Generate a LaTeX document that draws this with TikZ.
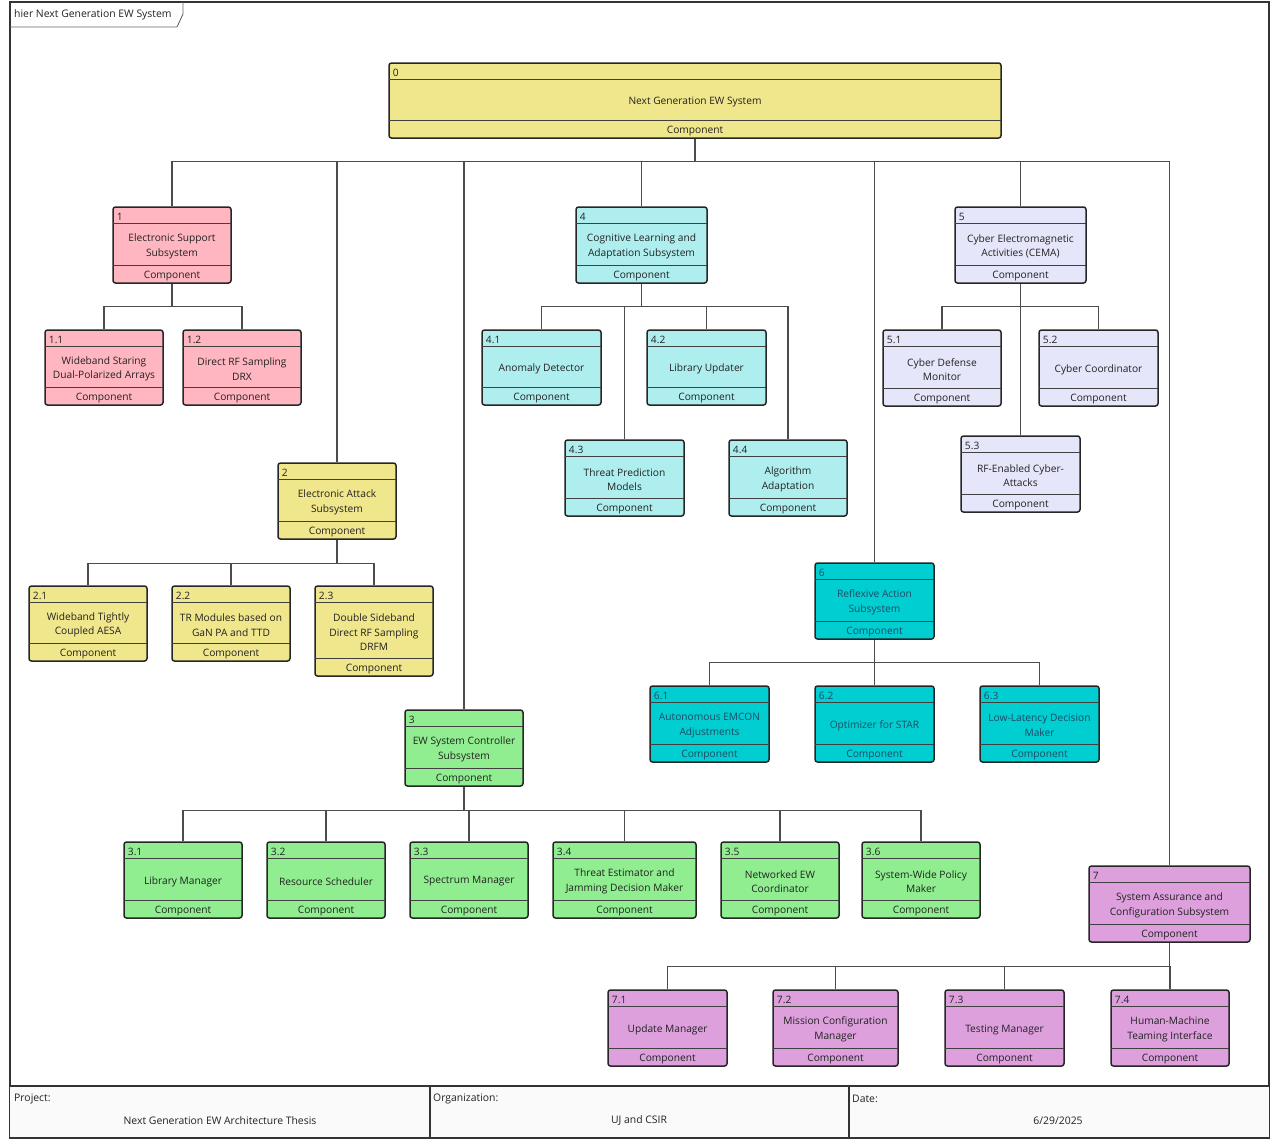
\documentclass[tikz,border=0pt]{standalone}
\usepackage{fontspec}
\setmainfont{Open Sans}
\usetikzlibrary{calc}
\definecolor{cyel}{HTML}{F0E68C}
\definecolor{cpink}{HTML}{FFB6C1}
\definecolor{cpale}{HTML}{AFEEEE}
\definecolor{clav}{HTML}{E6E6FA}
\definecolor{cturq}{HTML}{00CED1}
\definecolor{cgreen}{HTML}{90EE90}
\definecolor{cplum}{HTML}{DDA0DD}
\definecolor{tdark}{HTML}{222222}
\definecolor{tteal}{HTML}{1E4A66}
\def\tc{tdark}
\tikzset{
  cbox/.style={draw=black!85, line width=1.5pt, rounded corners=2.5pt, inner sep=0pt},
  sepline/.style={draw=black!75, line width=0.9pt},
  conn/.style={draw=black!70, line width=1.1pt},
  lbl/.style={font=\fontsize{10.2}{14.5}\selectfont, align=center, inner sep=0pt, text=\tc},
  small/.style={font=\fontsize{10.4}{12}\selectfont, inner sep=0pt, text=tdark},
}
\newcommand\compbox[8]{%
  \node[cbox, fill=#6, minimum width=#4, minimum height=#5] (#1) at (#2,#3) {};
  \draw[sepline] ([yshift=-17pt,xshift=0.8pt]#1.north west) -- ([yshift=-17pt,xshift=-0.8pt]#1.north east);
  \draw[sepline] ([yshift=18pt,xshift=0.8pt]#1.south west) -- ([yshift=18pt,xshift=-0.8pt]#1.south east);
  \node[lbl, anchor=west] (#1num) at ([xshift=4.5pt,yshift=-10.8pt]#1.north west) {#7};
  \node[lbl] (#1txt) at ([yshift=-1.5pt]#1.center) {#8};
  \node[lbl] (#1cmp) at ([yshift=8pt]#1.south) {Component};
}
\begin{document}
\begin{tikzpicture}[x=1pt,y=-1pt]
\useasboundingbox (0,0) rectangle (1272,1146);
\fill[white] (0,0) rectangle (1272,1146);
% frame
\draw[black!80, line width=1.5pt] (10,2) rectangle (1269,1138);
\draw[black!60, line width=0.9pt] (10,27) -- (177,27) -- (183,14) -- (183,2);
\node[small, anchor=west] (title) at (14,15) {hier Next Generation EW System};
% table
\fill[black!2] (10,1086) rectangle (1269,1138);
\draw[black!80, line width=1.5pt] (10,1086) -- (1269,1086);
\draw[black!80, line width=1.5pt] (10,1138) -- (1269,1138);
\draw[black!80, line width=1.5pt] (430,1086) -- (430,1138);
\draw[black!80, line width=1.5pt] (849,1086) -- (849,1138);
\node[small, anchor=west] (projl) at (14,1099) {Project:};
\node[small] (projv) at (220,1121) {Next Generation EW Architecture Thesis};
\node[small, anchor=west] (orgl) at (433,1099) {Organization:};
\node[small] (orgv) at (639,1121) {UJ and CSIR};
\node[small, anchor=west] (datel) at (852,1099) {Date:};
\node[small] (datev) at (1058,1121) {6/29/2025};

% root
\compbox{n0}{695}{100.5}{612}{75}{cyel}{0}{Next Generation EW System}
% 1
\compbox{n1}{172}{245}{118}{76}{cpink}{1}{Electronic Support\\Subsystem}
\compbox{n11}{104}{367.5}{118}{75}{cpink}{1.1}{Wideband Staring\\Dual-Polarized Arrays}
\compbox{n12}{242}{367.5}{118}{75}{cpink}{1.2}{Direct RF Sampling\\DRX}
% 2
\compbox{n2}{337}{501}{118}{76}{cyel}{2}{Electronic Attack\\Subsystem}
\compbox{n21}{88}{623.5}{118}{75}{cyel}{2.1}{Wideband Tightly\\Coupled AESA}
\compbox{n22}{231}{623.5}{118}{75}{cyel}{2.2}{TR Modules based on\\GaN PA and TTD}
\compbox{n23}{374}{631}{118}{90}{cyel}{2.3}{Double Sideband\\Direct RF Sampling\\DRFM}
% 3
\compbox{n3}{464}{748}{118}{76}{cgreen}{3}{EW System Controller\\Subsystem}
\compbox{n31}{183}{880}{118}{76}{cgreen}{3.1}{Library Manager}
\compbox{n32}{326}{880}{118}{76}{cgreen}{3.2}{Resource Scheduler}
\compbox{n33}{469}{880}{118}{76}{cgreen}{3.3}{Spectrum Manager}
\compbox{n34}{624.5}{880}{143}{76}{cgreen}{3.4}{Threat Estimator and\\Jamming Decision Maker}
\compbox{n35}{780}{880}{118}{76}{cgreen}{3.5}{Networked EW\\Coordinator}
\compbox{n36}{921}{880}{118}{76}{cgreen}{3.6}{System-Wide Policy\\Maker}
% 4
\compbox{n4}{641.5}{245}{131}{76}{cpale}{4}{Cognitive Learning and\\Adaptation Subsystem}
\compbox{n41}{541.5}{367.5}{119}{75}{cpale}{4.1}{Anomaly Detector}
\compbox{n42}{706.5}{367.5}{119}{75}{cpale}{4.2}{Library Updater}
\compbox{n43}{624.5}{478}{119}{76}{cpale}{4.3}{Threat Prediction\\Models}
\compbox{n44}{788}{478}{118}{76}{cpale}{4.4}{Algorithm\\Adaptation}
% 5
\compbox{n5}{1020.5}{245}{131}{76}{clav}{5}{Cyber Electromagnetic\\Activities (CEMA)}
\compbox{n51}{942}{368}{118}{76}{clav}{5.1}{Cyber Defense\\Monitor}
\compbox{n52}{1098.5}{368}{119}{76}{clav}{5.2}{Cyber Coordinator}
\compbox{n53}{1020.5}{474}{119}{76}{clav}{5.3}{RF-Enabled Cyber-\\Attacks}
% 6
\def\tc{tteal}
\compbox{n6}{874.5}{601}{119}{76}{cturq}{6}{Reflexive Action\\Subsystem}
\compbox{n61}{709.5}{724}{119}{76}{cturq}{6.1}{Autonomous EMCON\\Adjustments}
\compbox{n62}{874.5}{724}{119}{76}{cturq}{6.2}{Optimizer for STAR}
\compbox{n63}{1039.5}{724}{119}{76}{cturq}{6.3}{Low-Latency Decision\\Maker}
\def\tc{tdark}
% 7
\compbox{n7}{1169.5}{904}{161}{76}{cplum}{7}{System Assurance and\\Configuration Subsystem}
\compbox{n71}{667.5}{1028}{119}{76}{cplum}{7.1}{Update Manager}
\compbox{n72}{835.5}{1028}{125}{76}{cplum}{7.2}{Mission Configuration\\Manager}
\compbox{n73}{1004.5}{1028}{119}{76}{cplum}{7.3}{Testing Manager}
\compbox{n74}{1170}{1028}{118}{76}{cplum}{7.4}{Human-Machine\\Teaming Interface}

% connectors
\coordinate (b0) at ([yshift=-23pt]n0.south);
\foreach \c in {n1,n2,n3,n4,n5,n6,n7} \draw[conn] (n0.south) -- (b0) -| (\c.north);
\coordinate (b1) at ([yshift=-23pt]n1.south);
\foreach \c in {n11,n12} \draw[conn] (n1.south) -- (b1) -| (\c.north);
\coordinate (b2) at ([yshift=-24pt]n2.south);
\foreach \c in {n21,n22,n23} \draw[conn] (n2.south) -- (b2) -| (\c.north);
\coordinate (b3) at ([yshift=-24pt]n3.south);
\foreach \c in {n31,n32,n33,n34,n35,n36} \draw[conn] (n3.south) -- (b3) -| (\c.north);
\coordinate (b4) at ([yshift=-23pt]n4.south);
\foreach \c in {n41,n42,n43,n44} \draw[conn] (n4.south) -- (b4) -| (\c.north);
\coordinate (b5) at ([yshift=-23pt]n5.south);
\foreach \c in {n51,n52,n53} \draw[conn] (n5.south) -- (b5) -| (\c.north);
\coordinate (b6) at ([yshift=-23pt]n6.south);
\foreach \c in {n61,n62,n63} \draw[conn] (n6.south) -- (b6) -| (\c.north);
\coordinate (b7) at ([yshift=-24pt]n7.south);
\foreach \c in {n71,n72,n73,n74} \draw[conn] (n7.south) -- (b7) -| (\c.north);
\end{tikzpicture}
\end{document}
